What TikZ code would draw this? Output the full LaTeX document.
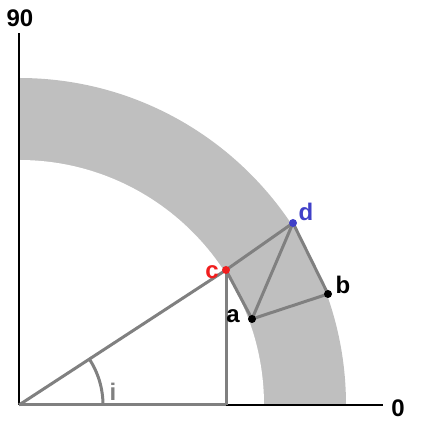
\documentclass[tikz,border=0pt]{standalone}
\usepackage{fontspec}
\setmainfont{Liberation Sans}
\definecolor{dblue}{RGB}{64,64,200}
\definecolor{cred}{RGB}{240,30,30}
\begin{document}
\begin{tikzpicture}[x=1pt,y=1pt,
  lbl/.style={font=\fontsize{24}{24}\selectfont\bfseries, inner sep=0pt},
  dotnode/.style={circle, fill=#1, inner sep=0pt, minimum size=8pt},
  seg/.style={draw=black!50, line width=3pt},
  axis/.style={draw=black, line width=2.2pt}]
\useasboundingbox (-19,-22) rectangle (423,405);
% annulus
\fill[black!25] (0,0) -- (327,0) arc[start angle=0,end angle=90,radius=327] -- cycle;
\fill[white] (0,0) -- (245,0) arc[start angle=0,end angle=90,radius=245] -- cycle;
% axes
\coordinate (O) at (0,0);
\coordinate (X) at (364,0);
\coordinate (Y) at (0,372);
\draw[axis] (O) -- (X);
\draw[axis] (O) -- (Y);
% points
\coordinate (cp) at (207,135);
\coordinate (dp) at (274,182);
\coordinate (bp) at (309,111);
\coordinate (ap) at (233,86);
\coordinate (f) at (207,0);
% segments
\draw[seg] (O) -- (cp);
\draw[seg] (cp) -- (f);
\draw[seg] (O) -- (f);
\draw[seg] (cp) -- (dp);
\draw[seg] (cp) -- (ap);
\draw[seg] (ap) -- (dp);
\draw[seg] (dp) -- (bp);
\draw[seg] (ap) -- (bp);
\draw[seg] (84,0) arc[start angle=0,end angle=33.3,radius=84];
% dots
\node[dotnode=cred] (c) at (cp) {};
\node[dotnode=dblue] (d) at (dp) {};
\node[dotnode=black] (b) at (bp) {};
\node[dotnode=black] (a) at (ap) {};
% labels
\node[lbl] (l90) at (1,387) {90};
\node[lbl] (l0) at (379,-3) {0};
\node[lbl, text=black!50] (li) at (94,13) {i};
\node[lbl, text=cred] (lc) at (193,133) {c};
\node[lbl, text=dblue] (ld) at (287,193) {d};
\node[lbl] (lb) at (324,120) {b};
\node[lbl] (la) at (214,89) {a};
\end{tikzpicture}
\end{document}
